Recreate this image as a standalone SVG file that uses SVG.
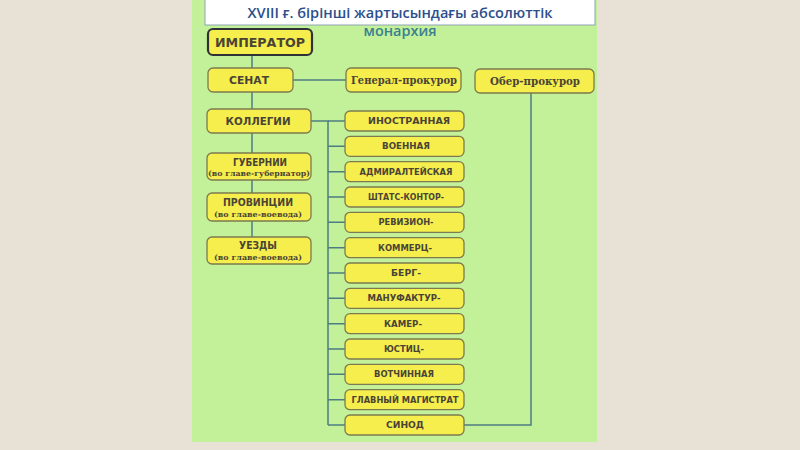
<svg xmlns="http://www.w3.org/2000/svg" width="800" height="450" viewBox="0 0 800 450">
<style>
.bx{fill:#f6ee4c;stroke:#7c7a4e;stroke-width:1.3}
.emp{fill:#f6ee4c;stroke:#2e3236;stroke-width:2.2}
.t{font-family:"DejaVu Sans","Liberation Sans",sans-serif;font-weight:bold;fill:#4a4436;text-anchor:middle}
.s{font-size:8px}
.m{font-size:10px}
.sub{font-family:"DejaVu Serif","Liberation Serif",serif;font-weight:bold;fill:#4a4436;text-anchor:middle;font-size:7.5px}
.sr{font-family:"DejaVu Serif","Liberation Serif",serif;font-weight:bold;fill:#4a4436;text-anchor:middle;font-size:10.5px}
.ln{stroke:#4f7c82;stroke-width:1.5;fill:none}
</style>
<rect width="800" height="450" fill="#e7e1d6"/>
<rect x="192" y="0" width="405" height="442" fill="#c3f199"/>
<g id="title">
<rect x="205" y="-1" width="390" height="26" fill="#ffffff" stroke="#8fa3b3" stroke-width="1"/>
<text x="400" y="18" font-family="'Open Sans','Noto Sans',sans-serif" font-weight="600" font-size="15" fill="#2c4f8c" text-anchor="middle" textLength="305" lengthAdjust="spacingAndGlyphs">XVIII ғ. бірінші жартысындағы абсолюттік</text>
<text x="400" y="36" font-family="'Open Sans','Noto Sans',sans-serif" font-weight="600" font-size="14" fill="#3b7f90" text-anchor="middle" textLength="73" lengthAdjust="spacingAndGlyphs">монархия</text>
</g>
<g id="connectors">
<path class="ln" d="M252 55V237"/>
<path class="ln" d="M293 80H346"/>
<path class="ln" d="M311 121H328V425"/>
<path class="ln" d="M328 121H345M328 146.3H345M328 171.7H345M328 197H345M328 222.3H345M328 247.7H345M328 273H345M328 298.3H345M328 323.7H345M328 349H345M328 374.3H345M328 399.7H345M328 425H345"/>
<path class="ln" d="M464 425H531V93"/>
</g>
<g id="imperator"><rect class="emp" x="208" y="29" width="104" height="26" rx="5"/><text class="t" x="260" y="47" font-size="12.5" textLength="90" lengthAdjust="spacingAndGlyphs">ИМПЕРАТОР</text></g>
<g id="senat"><rect class="bx" x="208" y="68" width="85" height="24" rx="5"/><text class="t m" x="249" y="84" textLength="40" lengthAdjust="spacingAndGlyphs">СЕНАТ</text></g>
<g id="general"><rect class="bx" x="346" y="68" width="115" height="24" rx="5"/><text class="sr" x="404" y="84" textLength="106" lengthAdjust="spacingAndGlyphs">Генерал-прокурор</text></g>
<g id="ober"><rect class="bx" x="475" y="69" width="119" height="24" rx="5"/><text class="sr" x="535" y="85" textLength="90" lengthAdjust="spacingAndGlyphs">Обер-прокурор</text></g>
<g id="kollegii"><rect class="bx" x="207" y="109" width="104" height="24" rx="5"/><text class="t m" x="258" y="125" textLength="65" lengthAdjust="spacingAndGlyphs">КОЛЛЕГИИ</text></g>
<g id="gubernii"><rect class="bx" x="207" y="153" width="104" height="27" rx="5"/><text class="t m" x="260" y="166" textLength="54" lengthAdjust="spacingAndGlyphs">ГУБЕРНИИ</text><text class="sub" x="259" y="176" textLength="102" lengthAdjust="spacingAndGlyphs">(во главе-губернатор)</text></g>
<g id="provincii"><rect class="bx" x="207" y="193" width="104" height="28" rx="5"/><text class="t m" x="258" y="206" textLength="70" lengthAdjust="spacingAndGlyphs">ПРОВИНЦИИ</text><text class="sub" x="258" y="217" textLength="88" lengthAdjust="spacingAndGlyphs">(во главе-воевода)</text></g>
<g id="uezdy"><rect class="bx" x="207" y="237" width="104" height="27" rx="5"/><text class="t m" x="258" y="249" textLength="38" lengthAdjust="spacingAndGlyphs">УЕЗДЫ</text><text class="sub" x="258" y="260" textLength="88" lengthAdjust="spacingAndGlyphs">(во главе-воевода)</text></g>
<g id="inostrannaya"><rect class="bx" x="345" y="111" width="119" height="20" rx="5"/><text class="t s" x="409" y="124" textLength="82" lengthAdjust="spacingAndGlyphs">ИНОСТРАННАЯ</text></g>
<g id="voennaya"><rect class="bx" x="345" y="136.3" width="119" height="20" rx="5"/><text class="t s" x="406" y="149.3" textLength="48" lengthAdjust="spacingAndGlyphs">ВОЕННАЯ</text></g>
<g id="admiral"><rect class="bx" x="345" y="161.7" width="119" height="20" rx="5"/><text class="t s" x="406" y="174.7" textLength="93" lengthAdjust="spacingAndGlyphs">АДМИРАЛТЕЙСКАЯ</text></g>
<g id="shtats"><rect class="bx" x="345" y="187" width="119" height="20" rx="5"/><text class="t s" x="406" y="200" textLength="76" lengthAdjust="spacingAndGlyphs">ШТАТС-КОНТОР-</text></g>
<g id="reviz"><rect class="bx" x="345" y="212.3" width="119" height="20" rx="5"/><text class="t s" x="406" y="225.3" textLength="55" lengthAdjust="spacingAndGlyphs">РЕВИЗИОН-</text></g>
<g id="kommerc"><rect class="bx" x="345" y="237.7" width="119" height="20" rx="5"/><text class="t s" x="405" y="250.7" textLength="54" lengthAdjust="spacingAndGlyphs">КОММЕРЦ-</text></g>
<g id="berg"><rect class="bx" x="345" y="263" width="119" height="20" rx="5"/><text class="t s" x="406" y="276" textLength="30" lengthAdjust="spacingAndGlyphs">БЕРГ-</text></g>
<g id="manuf"><rect class="bx" x="345" y="288.3" width="119" height="20" rx="5"/><text class="t s" x="404" y="301.3" textLength="73" lengthAdjust="spacingAndGlyphs">МАНУФАКТУР-</text></g>
<g id="kamer"><rect class="bx" x="345" y="313.7" width="119" height="20" rx="5"/><text class="t s" x="403" y="326.7" textLength="38" lengthAdjust="spacingAndGlyphs">КАМЕР-</text></g>
<g id="justic"><rect class="bx" x="345" y="339" width="119" height="20" rx="5"/><text class="t s" x="404" y="352" textLength="40" lengthAdjust="spacingAndGlyphs">ЮСТИЦ-</text></g>
<g id="votchinnaya"><rect class="bx" x="345" y="364.3" width="119" height="20" rx="5"/><text class="t s" x="404" y="377.3" textLength="60" lengthAdjust="spacingAndGlyphs">ВОТЧИННАЯ</text></g>
<g id="magistrat"><rect class="bx" x="345" y="389.7" width="119" height="20" rx="5"/><text class="t s" x="405" y="402.7" textLength="107" lengthAdjust="spacingAndGlyphs">ГЛАВНЫЙ МАГИСТРАТ</text></g>
<g id="sinod"><rect class="bx" x="345" y="415" width="119" height="20" rx="5"/><text class="t s" x="405" y="428" textLength="38" lengthAdjust="spacingAndGlyphs">СИНОД</text></g>
</svg>
